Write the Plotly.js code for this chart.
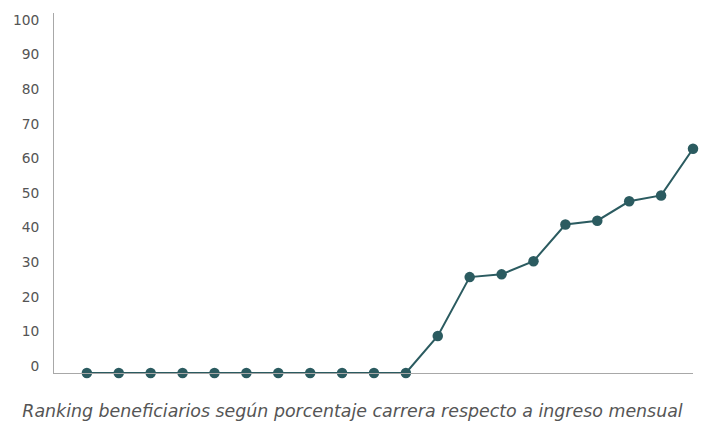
<!DOCTYPE html>
<html>
<head>
<meta charset="utf-8">
<script src="https://cdn.plot.ly/plotly-3.0.1.min.js"></script>
<style>html,body{margin:0;padding:0;background:#fff;}#chart{width:705px;height:422px;}</style>
</head>
<body>
<div id="chart"></div>
<script>
const ranking = [1,2,3,4,5,6,7,8,9,10,11,12,13,14,15,16,17,18,19,20];
const porcentaje = [0,0,0,0,0,0,0,0,0,0,0,10.7,27.7,28.5,32.3,42.9,44.0,49.6,51.3,64.8];
const yTicks = [0,10,20,30,40,50,60,70,80,90,100];
const xTitle = "Ranking beneficiarios según porcentaje carrera respecto a ingreso mensual";

const trace = {
  x: ranking, y: porcentaje, type: 'scatter', mode: 'lines+markers',
  line: {color: '#2b5b60', width: 2},
  marker: {color: '#2b5b60', size: 10.5},
  cliponaxis: false, hoverinfo: 'none'
};
const layout = {
  width: 705, height: 422,
  margin: {l: 54, r: 12, t: 13, b: 49},
  paper_bgcolor: '#fff', plot_bgcolor: '#fff',
  showlegend: false,
  font: {family: 'DejaVu Sans, sans-serif', color: '#555', size: 14},
  xaxis: {range: [-0.03, 20], showgrid: false, zeroline: false, showticklabels: false,
          ticks: '', showline: true, linecolor: '#a8a8a8', linewidth: 1, fixedrange: true},
  yaxis: {range: [0, 104], tickvals: yTicks, ticktext: yTicks.map(String), showgrid: false,
          zeroline: false, ticks: '', showline: true, linecolor: '#a8a8a8', linewidth: 1,
          ticklabelshift: -7, ticklabelstandoff: 11, tickfont: {size: 13.8, color: '#555'}},
  title: {text: xTitle, xref: 'container', yref: 'container', x: 0.5, xanchor: 'center',
          y: 0.027, yanchor: 'middle', font: {size: 17.4, color: '#555', style: 'italic', family: 'DejaVu Sans, sans-serif'}}
};
Plotly.newPlot('chart', [trace], layout, {staticPlot: true});
</script>
</body>
</html>
